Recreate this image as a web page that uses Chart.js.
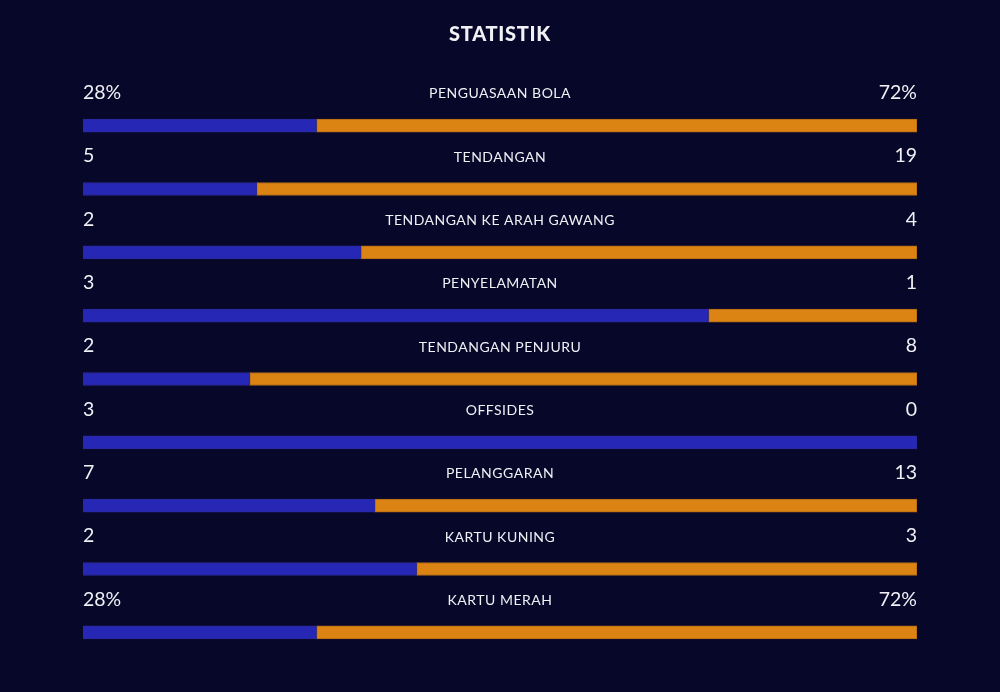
<!DOCTYPE html>
<html lang="id">
<head>
  <meta charset="UTF-8">
  <title>Statistik</title>
  <script src="https://cdn.jsdelivr.net/npm/chart.js"></script>
  <style>
    html, body { margin: 0; padding: 0; background: #07072a; }
    #wrap { width: 1000px; height: 692px; position: relative; }
  </style>
</head>
<body>
  <div id="wrap"><canvas id="stats"></canvas></div>
  <script>
    // data statistik pertandingan
    const categories = ['PENGUASAAN BOLA', 'TENDANGAN', 'TENDANGAN KE ARAH GAWANG', 'PENYELAMATAN',
      'TENDANGAN PENJURU', 'OFFSIDES', 'PELANGGARAN', 'KARTU KUNING', 'KARTU MERAH'];
    const homeValues = [28, 5, 2, 3, 2, 3, 7, 2, 28];
    const awayValues = [72, 19, 4, 1, 8, 0, 13, 3, 72];
    const homeLabels = ['28%', '5', '2', '3', '2', '3', '7', '2', '28%'];
    const awayLabels = ['72%', '19', '4', '1', '8', '0', '13', '3', '72%'];

    const BLUE = '#2727b5';
    const ORANGE = '#db8414';

    // share tiap baris (0..100) supaya semua bar sama panjang
    const homeShare = homeValues.map((v, i) => v / (v + awayValues[i]) * 100);
    const awayShare = awayValues.map((v, i) => v / (v + homeValues[i]) * 100);

    const bgPlugin = {
      id: 'bg',
      beforeDraw(chart) {
        const ctx = chart.ctx;
        ctx.save();
        ctx.fillStyle = '#07072a';
        ctx.fillRect(0, 0, chart.width, chart.height);
        ctx.restore();
      }
    };

    // teks di atas tiap bar: angka kiri, nama kategori, angka kanan
    const labelPlugin = {
      id: 'rowLabels',
      afterDraw(chart) {
        const ctx = chart.ctx;
        const area = chart.chartArea;
        const y = chart.scales.y;
        ctx.save();
        ctx.textBaseline = 'middle';
        ctx.fillStyle = '#f0f0f5';

        ctx.font = '900 20px Lato';
        ctx.letterSpacing = '0.7px';
        ctx.textAlign = 'center';
        ctx.fillText('STATISTIK', chart.width / 2, 35);

        categories.forEach((cat, i) => {
          const cy = y.getPixelForValue(i) - 33;
          ctx.font = '19.5px Lato';
          ctx.letterSpacing = '0px';
          ctx.textAlign = 'left';
          ctx.fillText(homeLabels[i], area.left, cy);
          ctx.textAlign = 'right';
          ctx.fillText(awayLabels[i], area.right, cy);
          ctx.font = '14px Lato';
          ctx.letterSpacing = '0.5px';
          ctx.textAlign = 'center';
          ctx.fillText(cat, (area.left + area.right) / 2, cy + 1);
        });
        ctx.restore();
      }
    };

    new Chart(document.getElementById('stats'), {
      type: 'bar',
      data: {
        labels: categories,
        datasets: [
          {
            label: 'Home',
            data: homeShare,
            backgroundColor: BLUE,
            borderColor: '#2a2a9a',
            borderWidth: 1,
            borderSkipped: false,
            barThickness: 13
          },
          {
            label: 'Away',
            data: awayShare,
            backgroundColor: ORANGE,
            borderColor: '#b06a12',
            borderWidth: 1,
            borderSkipped: false,
            barThickness: 13
          }
        ]
      },
      options: {
        indexAxis: 'y',
        responsive: true,
        maintainAspectRatio: false,
        animation: false,
        layout: { padding: { left: 83, right: 83, top: 94, bottom: 28 } },
        scales: {
          x: { stacked: true, min: 0, max: 100, display: false },
          y: { stacked: true, display: false }
        },
        plugins: {
          legend: { display: false },
          tooltip: { enabled: false }
        }
      },
      plugins: [bgPlugin, labelPlugin]
    });
  </script>
</body>
</html>
